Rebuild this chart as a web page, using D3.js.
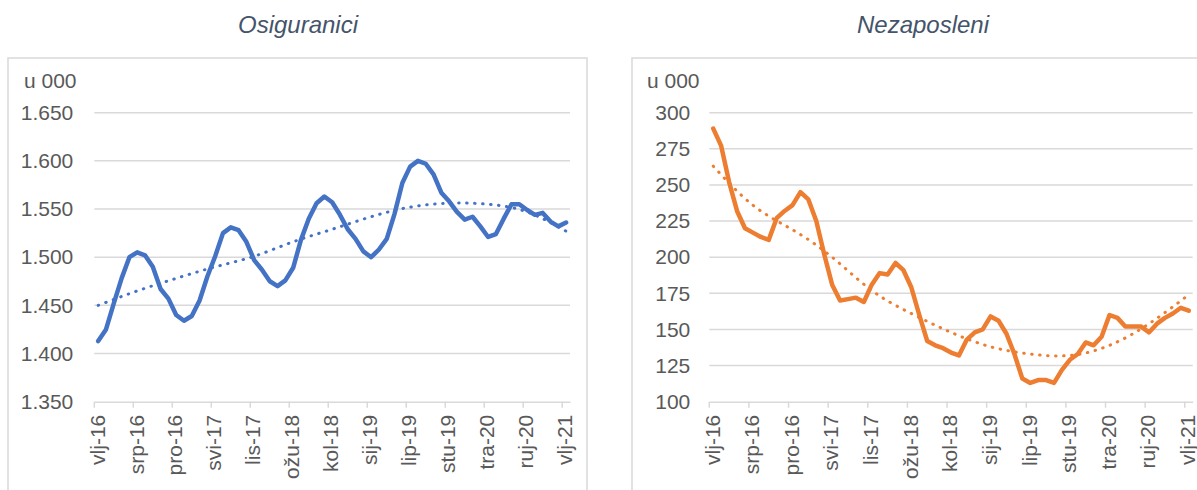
<!DOCTYPE html>
<html>
<head>
<meta charset="utf-8">
<script src="https://cdn.jsdelivr.net/npm/d3@7"></script>
<style>
  body { margin: 0; background: #fff; }
  text { font-family: "Liberation Sans", Arial, sans-serif; }
</style>
</head>
<body>
<svg width="1197" height="490"></svg>
<script>
const svg = d3.select("svg");

// months vlj-16 .. vlj-21
const monthNames = ["sij", "vlj", "ožu", "tra", "svi", "lip", "srp", "kol", "ruj", "lis", "stu", "pro"];
const categories = [];
for (let k = 0; k < 61; k++) {
    let m = (1 + k) % 12;
    let y = 16 + Math.floor((1 + k) / 12);
    categories.push(monthNames[m] + "-" + y);
}
const tickLabels = ["vlj-16", "srp-16", "pro-16", "svi-17", "lis-17", "ožu-18", "kol-18",
    "sij-19", "lip-19", "stu-19", "tra-20", "ruj-20", "vlj-21"];

const osiguranici = [1413, 1425, 1452, 1478, 1500, 1505, 1502, 1490, 1467, 1457,
    1440, 1434, 1439, 1455, 1480, 1501, 1525, 1531, 1528, 1516,
    1497, 1487, 1475, 1470, 1476, 1489, 1518, 1540, 1556, 1563,
    1557, 1544, 1529, 1519, 1506, 1500, 1508, 1519, 1545, 1577,
    1594, 1600, 1597, 1586, 1567, 1558, 1547, 1539, 1542, 1532,
    1521, 1524, 1540, 1555, 1555, 1549, 1544, 1546, 1537, 1532, 1536];

const nezaposleni = [289, 277, 252, 232, 220, 217, 214, 212, 227, 232,
    236, 245, 240, 225, 202, 181, 170, 171, 172, 169,
    181, 189, 188, 196, 191, 179, 160, 142, 139, 137,
    134, 132, 143, 148, 150, 159, 156, 147, 133, 116,
    113, 115, 115, 113, 122, 129, 133, 141, 139, 145,
    160, 158, 152, 152, 152, 148, 154, 158, 161, 165, 163];

// trend lines read at every 5th month (vlj-16, srp-16, ... vlj-21)
const osigTrend = [1450, 1465, 1478, 1490, 1501, 1516, 1529, 1542, 1552, 1556, 1555, 1547, 1527];
const nezTrend = [263, 236, 219, 200, 177, 161, 148, 138, 133, 132, 139, 154, 174];

const osigTicks = [1350, 1400, 1450, 1500, 1550, 1600, 1650];
const nezTicks = [100, 125, 150, 175, 200, 225, 250, 275, 300];

const hr = d3.formatLocale({ decimal: ",", thousands: ".", grouping: [3], currency: ["", " kn"] });
const fmtThousands = hr.format(",.0f");

function drawPanel(cfg) {
    let g = svg.append("g");

    g.append("rect")
        .attr("x", cfg.frame[0])
        .attr("y", 58)
        .attr("width", cfg.frame[1] - cfg.frame[0])
        .attr("height", 460)
        .attr("fill", "none")
        .attr("stroke", "#d9d9d9")
        .attr("stroke-width", 1.5);

    g.append("text")
        .attr("x", cfg.titleX)
        .attr("y", 33)
        .attr("text-anchor", "middle")
        .style("font-style", "italic")
        .style("font-size", "24px")
        .style("fill", "#44546a")
        .text(cfg.title);

    let x = d3.scaleBand()
        .domain(categories)
        .range([cfg.left, cfg.right])
        .paddingInner(0)
        .paddingOuter(0);
    let bw = x.bandwidth();
    let y = d3.scaleLinear()
        .domain(cfg.domain)
        .range([401.7, 112.7]);

    // gridlines
    g.append("g")
        .selectAll("line")
        .data(cfg.ticks.slice(1))
        .join("line")
        .attr("x1", cfg.left)
        .attr("x2", cfg.right)
        .attr("y1", d => y(d))
        .attr("y2", d => y(d))
        .attr("stroke", "#d9d9d9")
        .attr("stroke-width", 1.5);

    // y axis labels
    let yAxis = g.append("g")
        .attr("transform", `translate(${cfg.left},0)`)
        .call(d3.axisLeft(y).tickValues(cfg.ticks).tickSize(0).tickPadding(cfg.yPad).tickFormat(cfg.format));
    yAxis.select(".domain").remove();
    yAxis.selectAll("text")
        .style("font-size", "21px")
        .style("fill", "#595959");

    g.append("text")
        .attr("x", cfg.unitX)
        .attr("y", 88)
        .style("font-size", "21px")
        .style("fill", "#595959")
        .text("u 000");

    // x axis
    let tickCats = categories.filter((d, i) => i % 5 === 0);
    let xAxis = g.append("g")
        .attr("transform", `translate(0,${y(cfg.domain[0])})`)
        .call(d3.axisBottom(x).tickValues(tickCats).tickSize(6).tickSizeOuter(0)
            .tickFormat((d, i) => tickLabels[i]));
    xAxis.select(".domain")
        .attr("stroke", "#d9d9d9")
        .attr("stroke-width", 1.5);
    xAxis.selectAll(".tick line")
        .attr("x1", -bw / 2)
        .attr("x2", -bw / 2)
        .attr("stroke", "#d9d9d9")
        .attr("stroke-width", 1.5);
    xAxis.selectAll(".tick text")
        .attr("transform", "rotate(-90)")
        .attr("text-anchor", "end")
        .attr("x", -13)
        .attr("y", 0)
        .attr("dy", "0.3em")
        .style("font-size", "21px")
        .style("fill", "#595959");

    let cx = (d, i) => x(categories[i]) + bw / 2;

    // trend line (dotted)
    let trendLine = d3.line()
        .x((d, i) => x(categories[i * 5]) + bw / 2)
        .y(d => y(d))
        .curve(d3.curveNatural);
    g.append("path")
        .attr("d", trendLine(cfg.trend))
        .attr("fill", "none")
        .attr("stroke", cfg.color)
        .attr("stroke-width", 3)
        .attr("stroke-linecap", "round")
        .attr("stroke-dasharray", "0.5 7.5");

    // actual series
    let line = d3.line()
        .x(cx)
        .y(d => y(d));
    g.append("path")
        .attr("d", line(cfg.values))
        .attr("fill", "none")
        .attr("stroke", cfg.color)
        .attr("stroke-width", 4.5)
        .attr("stroke-linejoin", "round")
        .attr("stroke-linecap", "round");
}

drawPanel({
    title: "Osiguranici",
    titleX: 298,
    frame: [8, 587],
    left: 94.3,
    right: 570,
    domain: [1350, 1650],
    ticks: osigTicks,
    format: fmtThousands,
    yPad: 21,
    unitX: 24,
    values: osiguranici,
    trend: osigTrend,
    color: "#4472c4"
});

drawPanel({
    title: "Nezaposleni",
    titleX: 923,
    frame: [632, 1210],
    left: 709.3,
    right: 1192.7,
    domain: [100, 300],
    ticks: nezTicks,
    format: d3.format("d"),
    yPad: 19,
    unitX: 647,
    values: nezaposleni,
    trend: nezTrend,
    color: "#ed7d31"
});
</script>
</body>
</html>
